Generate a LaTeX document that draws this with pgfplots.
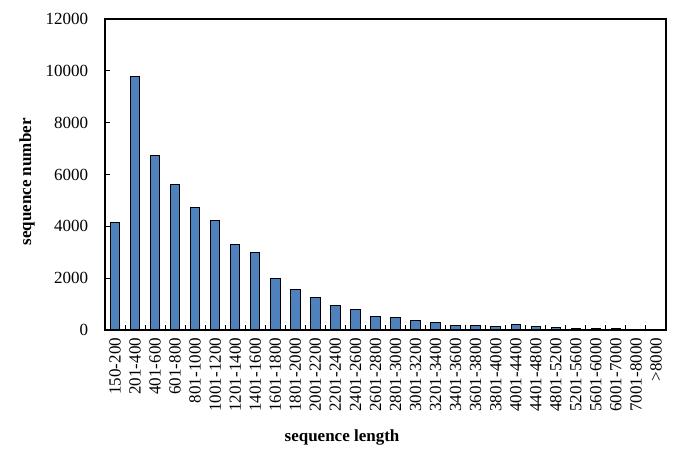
\documentclass[border=0pt]{standalone}
\usepackage{pgfplots}
\pgfplotsset{compat=1.18}
\usepackage{fontspec}
\setmainfont{Liberation Serif}
\definecolor{barblue}{RGB}{79,129,189}

\begin{document}
\fontsize{17}{20}\selectfont
\begin{tikzpicture}
  \path (0,0) rectangle (685pt,462pt);
  \begin{axis}[
      at={(105pt,132pt)}, anchor=south west,
      scale only axis,
      width=561pt, height=311pt,
      xmin=-0.5, xmax=27.5,
      ymin=0, ymax=12000,
      ytick={0,2000,...,12000},
      xtick={0,...,27},
      minor x tick num=1,
      xticklabels={150-200,201-400,401-600,601-800,801-1000,1001-1200,1201-1400,1401-1600,1601-1800,1801-2000,2001-2200,2201-2400,2401-2600,2601-2800,2801-3000,3001-3200,3201-3400,3401-3600,3601-3800,3801-4000,4001-4400,4401-4800,4801-5200,5201-5600,5601-6000,6001-7000,7001-8000,>8000},
      xticklabel style={rotate=90, anchor=east, yshift=0pt, xshift=-2pt},
      yticklabel style={xshift=-11pt},
      tick align=inside,
      xtick pos=bottom, ytick pos=left,
      major x tick style={draw=none},
      minor tick length=5pt,
      major tick length=5pt,
      tick style={black, line width=1pt},
      axis line style={line width=1.3pt},
      scaled y ticks=false,
      /pgf/number format/.cd, set thousands separator={}, assume math mode=true,
      /pgfplots/.cd,
      xlabel={\textbf{sequence length}},
      ylabel={\textbf{sequence number}},
      xlabel style={at={(axis description cs:0.4225,-0.344)}, anchor=center},
      ylabel style={at={(axis description cs:-0.139,0.476)}, anchor=center, rotate=0},
      clip=false,
    ]
    \addplot[ybar, bar width=0.47, fill=barblue, draw=black, line width=1pt]
      coordinates {
        (0,4140) (1,9800) (2,6750) (3,5600) (4,4710) (5,4230) (6,3300)
        (7,2990) (8,2000) (9,1580) (10,1240) (11,960) (12,790) (13,540)
        (14,475) (15,375) (16,280) (17,180) (18,180) (19,120) (20,230)
        (21,140) (22,100) (23,50) (24,50) (25,50) (26,25) (27,25)
      };
  \end{axis}
\end{tikzpicture}
\end{document}
